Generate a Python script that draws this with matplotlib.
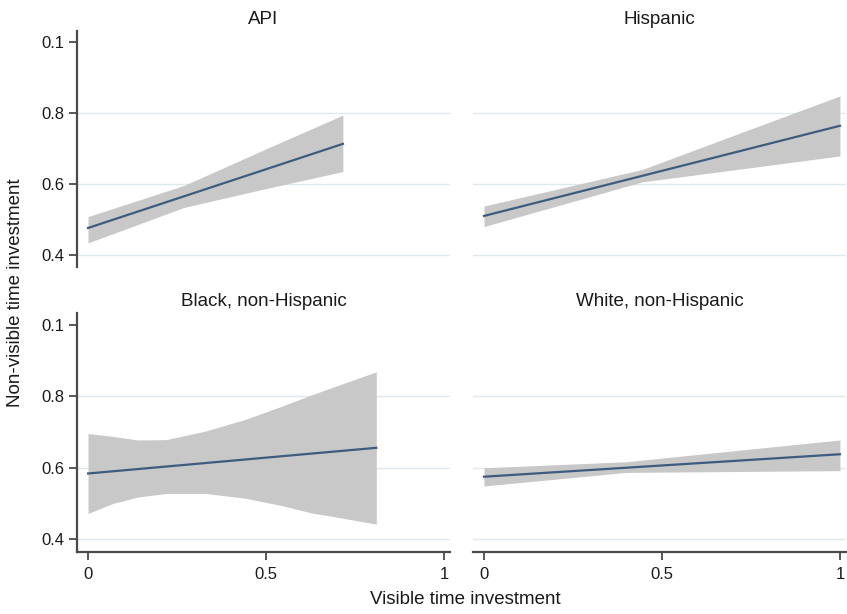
import matplotlib.pyplot as plt

plt.rcParams['font.family'] = ['Liberation Sans', 'DejaVu Sans']

panel_titles = ['API', 'Hispanic', 'Black, non-Hispanic', 'White, non-Hispanic']

# fitted line end points per group
api_x = [0, 0.716]
api_fit = [0.476, 0.713]
hisp_x = [0, 1.0]
hisp_fit = [0.510, 0.764]
black_x = [0, 0.81]
black_fit = [0.584, 0.656]
white_x = [0, 1.0]
white_fit = [0.575, 0.638]

# confidence bands
api_ci_x = [0, 0.27, 0.5, 0.716]
api_lo = [0.434, 0.534, 0.587, 0.635]
api_hi = [0.508, 0.596, 0.699, 0.794]

hisp_ci_x = [0, 0.445, 0.75, 1.0]
hisp_lo = [0.480, 0.606, 0.646, 0.679]
hisp_hi = [0.538, 0.641, 0.755, 0.848]

black_ci_x = [0, 0.07, 0.14, 0.22, 0.33, 0.44, 0.54, 0.63, 0.68, 0.81]
black_lo = [0.472, 0.500, 0.518, 0.528, 0.528, 0.515, 0.495, 0.473, 0.465, 0.442]
black_hi = [0.696, 0.688, 0.678, 0.679, 0.703, 0.735, 0.771, 0.805, 0.823, 0.869]

white_ci_x = [0, 0.4, 1.0]
white_lo = [0.549, 0.587, 0.592]
white_hi = [0.600, 0.617, 0.678]

y_ticks = [0.4, 0.6, 0.8, 1.0]
y_ticklabels = ['0.4', '0.6', '0.8', '0.1']
x_ticks = [0, 0.5, 1]
x_ticklabels = ['0', '0.5', '1']

fits = [(api_x, api_fit), (hisp_x, hisp_fit), (black_x, black_fit), (white_x, white_fit)]
bands = [(api_ci_x, api_lo, api_hi), (hisp_ci_x, hisp_lo, hisp_hi),
         (black_ci_x, black_lo, black_hi), (white_ci_x, white_lo, white_hi)]

fig = plt.figure(figsize=(8.47, 6.14), dpi=100)
boxes = [
    [0.0909, 0.5651, 0.4404, 0.3844],
    [0.5584, 0.5651, 0.4404, 0.3844],
    [0.0909, 0.1010, 0.4404, 0.3893],
    [0.5584, 0.1010, 0.4404, 0.3893],
]
axis_col = '#4a4a4a'
txt_col = '#1a1a1a'

for i, box in enumerate(boxes):
    ax = fig.add_axes(box)
    bx, lo, hi = bands[i]
    ax.fill_between(bx, lo, hi, color='#c8c8c8', linewidth=0, zorder=2)
    fx, fy = fits[i]
    ax.plot(fx, fy, color='#3e5c7e', linewidth=1.6, zorder=3)

    ax.set_xlim(-0.031, 1.017)
    if i < 2:
        ax.set_ylim(0.366, 1.031)
    else:
        ax.set_ylim(0.364, 1.034)
    for g in [0.4, 0.6, 0.8]:
        ax.axhline(g, color='#dde9ec', linewidth=1.0, zorder=1)

    for s in ['top', 'right', 'left', 'bottom']:
        ax.spines[s].set_visible(False)

    if i % 2 == 0:
        ax.spines['left'].set_visible(True)
        ax.spines['left'].set_color(axis_col)
        ax.spines['left'].set_linewidth(1.6)
        ax.set_yticks(y_ticks)
        ax.set_yticklabels(y_ticklabels)
    else:
        ax.set_yticks([])

    if i >= 2:
        ax.spines['bottom'].set_visible(True)
        ax.spines['bottom'].set_color(axis_col)
        ax.spines['bottom'].set_linewidth(1.6)
        ax.set_xticks(x_ticks)
        ax.set_xticklabels(x_ticklabels)
    else:
        ax.set_xticks([])

    ax.tick_params(axis='y', direction='out', length=6, width=1.3, color=axis_col,
                   labelsize=12, labelcolor=txt_col, pad=3)
    ax.tick_params(axis='x', direction='out', length=6, width=1.3, color=axis_col,
                   labelsize=12, labelcolor=txt_col, pad=5)
    ax.set_title(panel_titles[i], fontsize=13.5, color=txt_col, pad=5)

fig.text(0.018, 0.523, 'Non-visible time investment', rotation=90,
         ha='center', va='center', fontsize=13.5, color=txt_col)
fig.text(0.549, 0.023, 'Visible time investment', ha='center', va='center',
         fontsize=13.5, color=txt_col)

fig.savefig('out.png', dpi=100)
